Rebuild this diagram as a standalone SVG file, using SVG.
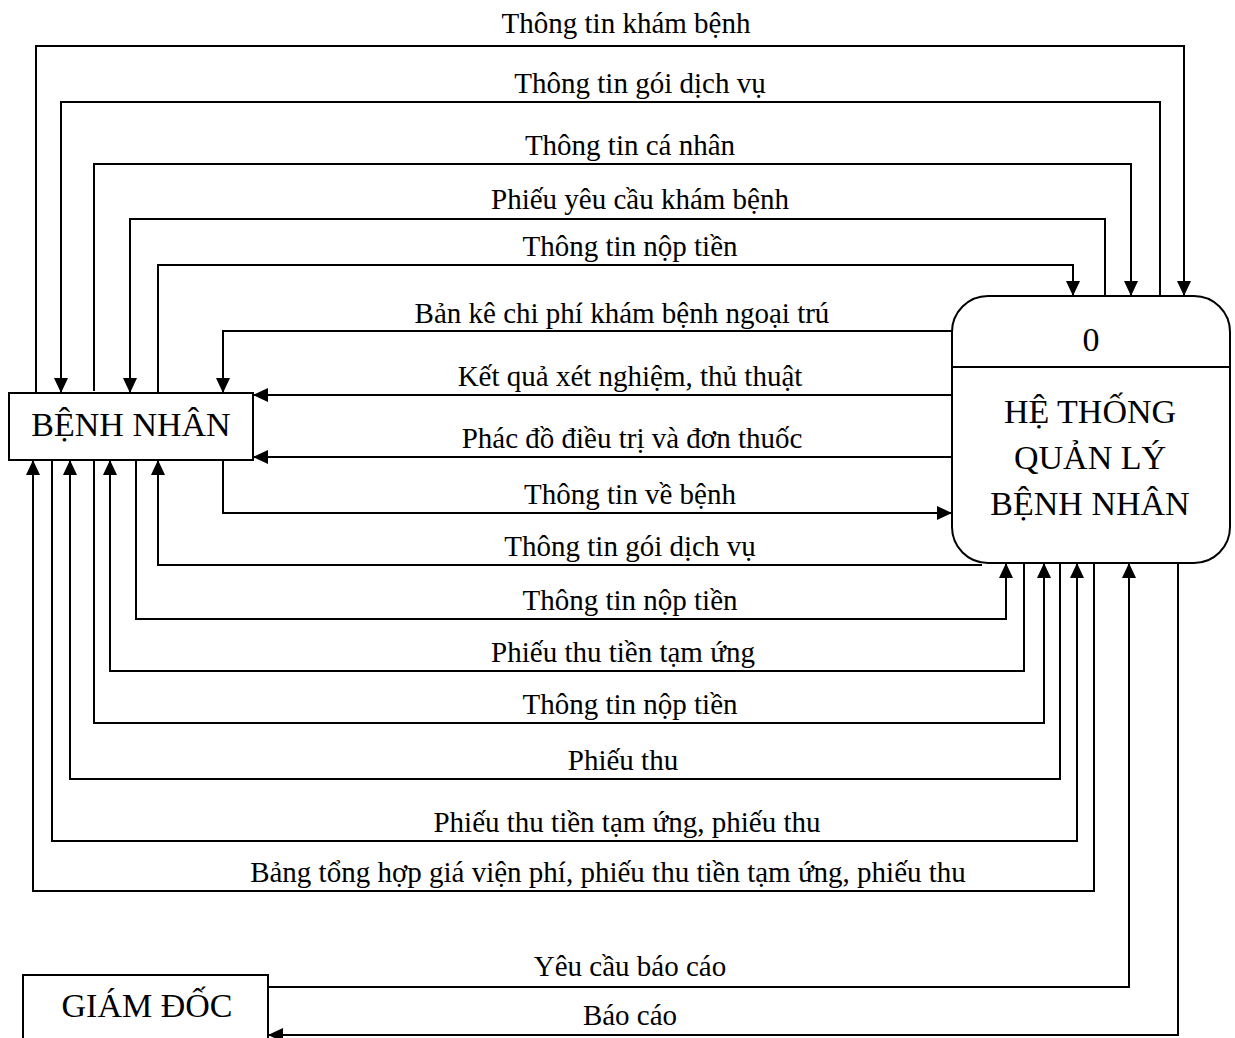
<svg xmlns="http://www.w3.org/2000/svg" width="1235" height="1038" viewBox="0 0 1235 1038">
  <style>
    .box { fill: #ffffff; stroke: #000000; stroke-width: 2; }
    .flow { fill: none; stroke: #000000; stroke-width: 2; }
    .arrow { marker-end: url(#head); }
    .node { font-family: "Liberation Serif", "Times New Roman", serif; font-size: 34px; fill: #000000; text-anchor: middle; }
    .lbl { font-family: "Liberation Serif", "Times New Roman", serif; font-size: 29px; fill: #000000; text-anchor: middle; }
  </style>
  <defs>
    <marker id="head" viewBox="0 0 15 14" refX="15" refY="7" markerWidth="15" markerHeight="14" markerUnits="userSpaceOnUse" orient="auto">
      <path d="M0,0 L15,7 L0,14 Z" fill="#000000"/>
    </marker>
  </defs>
  <rect width="1235" height="1038" fill="#ffffff"/>

  <!-- data flows -->
  <g id="connectors">
    <!-- above the patient box -->
    <path class="flow arrow" d="M36,393 V46 H1184 V296"/>
    <path class="flow arrow" d="M1160,296 V102 H61 V393"/>
    <path class="flow arrow" d="M94,391 V164 H1131 V296"/>
    <path class="flow arrow" d="M1105,296 V219 H130 V393"/>
    <path class="flow arrow" d="M158,393 V265 H1073 V296"/>
    <path class="flow arrow" d="M952,331 H223 V393"/>
    <!-- beside -->
    <path class="flow arrow" d="M952,395 H253"/>
    <path class="flow arrow" d="M952,457 H253"/>
    <path class="flow arrow" d="M223,460 V513 H952"/>
    <!-- below the patient box -->
    <path class="flow arrow" d="M982,565 H158 V460"/>
    <path class="flow arrow" d="M136,460 V619 H1006 V563"/>
    <path class="flow arrow" d="M1024,563 V671 H110 V460"/>
    <path class="flow arrow" d="M94,460 V723 H1044 V563"/>
    <path class="flow arrow" d="M1060,563 V779 H70 V460"/>
    <path class="flow arrow" d="M52,460 V841 H1077 V563"/>
    <path class="flow arrow" d="M1094,563 V891 H33 V460"/>
    <!-- director -->
    <path class="flow arrow" d="M268,987 H1129 V563"/>
    <path class="flow arrow" d="M1178,563 V1035 H268"/>
  </g>

  <g id="flow-labels">
    <text class="lbl" x="626" y="33">Thông tin khám bệnh</text>
    <text class="lbl" x="640" y="93">Thông tin gói dịch vụ</text>
    <text class="lbl" x="630" y="155">Thông tin cá nhân</text>
    <text class="lbl" x="640" y="209">Phiếu yêu cầu khám bệnh</text>
    <text class="lbl" x="630" y="256">Thông tin nộp tiền</text>
    <text class="lbl" x="622" y="323">Bản kê chi phí khám bệnh ngoại trú</text>
    <text class="lbl" x="630" y="386">Kết quả xét nghiệm, thủ thuật</text>
    <text class="lbl" x="632" y="448">Phác đồ điều trị và đơn thuốc</text>
    <text class="lbl" x="630" y="504">Thông tin về bệnh</text>
    <text class="lbl" x="630" y="556">Thông tin gói dịch vụ</text>
    <text class="lbl" x="630" y="610">Thông tin nộp tiền</text>
    <text class="lbl" x="623" y="662">Phiếu thu tiền tạm ứng</text>
    <text class="lbl" x="630" y="714">Thông tin nộp tiền</text>
    <text class="lbl" x="623" y="770">Phiếu thu</text>
    <text class="lbl" x="627" y="832">Phiếu thu tiền tạm ứng, phiếu thu</text>
    <text class="lbl" x="608" y="882">Bảng tổng hợp giá viện phí, phiếu thu tiền tạm ứng, phiếu thu</text>
    <text class="lbl" x="630" y="976">Yêu cầu báo cáo</text>
    <text class="lbl" x="630" y="1025">Báo cáo</text>
  </g>

  <!-- external entity: patient -->
  <g id="benh-nhan">
    <rect class="box" x="9" y="393" width="244" height="67"/>
    <text class="node" x="131" y="436">BỆNH NHÂN</text>
  </g>

  <!-- external entity: director -->
  <g id="giam-doc">
    <rect class="box" x="23" y="975" width="245" height="80"/>
    <text class="node" x="147" y="1017">GIÁM ĐỐC</text>
  </g>

  <!-- process 0 -->
  <g id="he-thong">
    <rect class="box" x="952" y="296" width="278" height="267" rx="36" ry="36"/>
    <line class="flow" x1="952" y1="367" x2="1230" y2="367"/>
    <text class="node" x="1091" y="351">0</text>
    <text class="node" x="1090" y="423">HỆ THỐNG</text>
    <text class="node" x="1090" y="469">QUẢN LÝ</text>
    <text class="node" x="1090" y="515">BỆNH NHÂN</text>
  </g>
</svg>
